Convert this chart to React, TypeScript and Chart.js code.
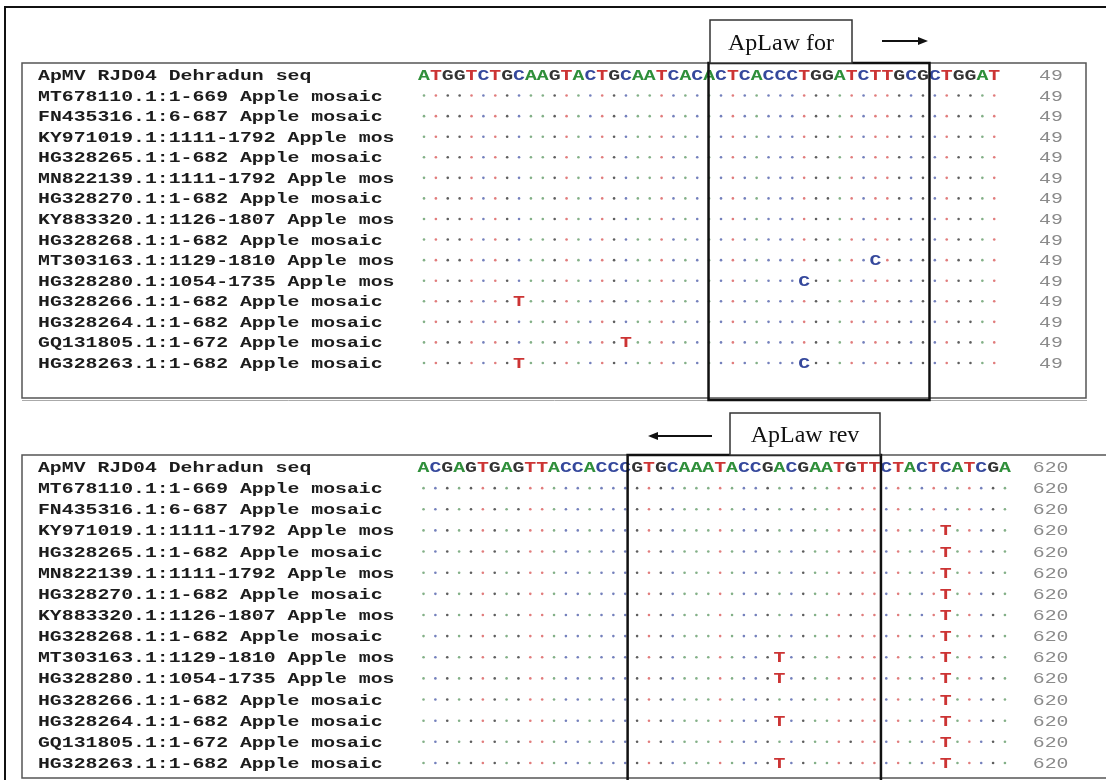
import React, { useEffect, useRef } from 'react';
import { Chart, registerables } from 'chart.js';
Chart.register(...registerables);

// ---------- DATA ----------
const sequenceNames = [
  'ApMV RJD04 Dehradun seq',
  'MT678110.1:1-669 Apple mosaic',
  'FN435316.1:6-687 Apple mosaic',
  'KY971019.1:1111-1792 Apple mos',
  'HG328265.1:1-682 Apple mosaic',
  'MN822139.1:1111-1792 Apple mos',
  'HG328270.1:1-682 Apple mosaic',
  'KY883320.1:1126-1807 Apple mos',
  'HG328268.1:1-682 Apple mosaic',
  'MT303163.1:1129-1810 Apple mos',
  'HG328280.1:1054-1735 Apple mos',
  'HG328266.1:1-682 Apple mosaic',
  'HG328264.1:1-682 Apple mosaic',
  'GQ131805.1:1-672 Apple mosaic',
  'HG328263.1:1-682 Apple mosaic',
];

const topReference = 'ATGGTCTGCAAGTACTGCAATCACACTCACCCTGGATCTTGCGCTGGAT';
const bottomReference = 'ACGAGTGAGTTACCACCCGTGCAAATACCGACGAATGTTCTACTCATCGA';

const topEndPosition = '49';
const bottomEndPosition = '620';

const topVariantRows = [9, 10, 11, 13, 14, 14];
const topVariantCols = [38, 32, 8, 17, 8, 32];
const topVariantBases = ['C', 'C', 'T', 'T', 'T', 'C'];

const bottomVariantRows = [3, 4, 5, 6, 7, 8, 9, 10, 11, 12, 13, 14, 9, 10, 12, 14];
const bottomVariantCols = [44, 44, 44, 44, 44, 44, 44, 44, 44, 44, 44, 44, 30, 30, 30, 30];
const bottomVariantBases = ['T', 'T', 'T', 'T', 'T', 'T', 'T', 'T', 'T', 'T', 'T', 'T', 'T', 'T', 'T', 'T'];

const primerLabels = ['ApLaw for', 'ApLaw rev'];
const primerStartCols = [23.95, 17.2];
const primerEndCols = [42.55, 38.55];
const primerDirections = ['right', 'left'];

// ---------- STYLE ----------
const baseColors: Record<string, string> = {
  A: '#2f8f3a',
  C: '#35489c',
  G: '#333333',
  T: '#cc3434',
};
const dotColors: Record<string, string> = {
  A: 'rgba(90,150,95,0.75)',
  C: 'rgba(70,85,165,0.75)',
  G: 'rgba(40,40,40,0.75)',
  T: 'rgba(215,80,80,0.75)',
};
const MONO_SX = 1.32;

function drawText(ctx: CanvasRenderingContext2D, text: string, x: number, y: number, font: string, color: string, align: CanvasTextAlign, sx: number) {
  ctx.save();
  ctx.translate(x, y);
  ctx.scale(sx, 1);
  ctx.font = font;
  ctx.fillStyle = color;
  ctx.textAlign = align;
  ctx.textBaseline = 'alphabetic';
  ctx.fillText(text, 0, 0);
  ctx.restore();
}

function drawArrow(ctx: CanvasRenderingContext2D, x1: number, x2: number, y: number) {
  const dir = Math.sign(x2 - x1);
  ctx.save();
  ctx.strokeStyle = '#111';
  ctx.fillStyle = '#111';
  ctx.lineWidth = 2;
  ctx.beginPath();
  ctx.moveTo(x1, y);
  ctx.lineTo(x2 - dir * 8, y);
  ctx.stroke();
  ctx.beginPath();
  ctx.moveTo(x2, y);
  ctx.lineTo(x2 - dir * 10, y - 4);
  ctx.lineTo(x2 - dir * 10, y + 4);
  ctx.closePath();
  ctx.fill();
  ctx.restore();
}

type PanelCfg = {
  reference: string;
  endLabel: string;
  vRows: number[];
  vCols: number[];
  vBases: string[];
  primer: number;
  xMin: number;
  xMax: number;
  yMin: number;
  yMax: number;
  padding: { left: number; right: number; top: number; bottom: number };
  nameCol: number;
  endCol: number;
  labelBox: { x0: number; x1: number; y0: number; y1: number };
  arrow: { x1: number; x2: number; y: number };
  boxBottomExtra: number;
  rightBorder: boolean;
};

function makeChart(canvas: HTMLCanvasElement, cfg: PanelCfg) {
  const dots: any[] = [];
  const dotCols: string[] = [];
  const letters: any[] = [];
  for (let c = 0; c < cfg.reference.length; c++) {
    letters.push({ x: c, y: 0, b: cfg.reference[c] });
  }
  for (let r = 1; r < sequenceNames.length; r++) {
    for (let c = 0; c < cfg.reference.length; c++) {
      let vi = -1;
      for (let k = 0; k < cfg.vRows.length; k++) if (cfg.vRows[k] === r && cfg.vCols[k] === c) vi = k;
      if (vi >= 0) {
        letters.push({ x: c, y: r, b: cfg.vBases[vi] });
      } else {
        dots.push({ x: c, y: r });
        dotCols.push(dotColors[cfg.reference[c]]);
      }
    }
  }

  const plugin = {
    id: 'alignText',
    afterDatasetsDraw(chart: any) {
      const { ctx, chartArea, scales } = chart;
      const x = scales.x;
      const y = scales.y;
      // names + end numbers
      sequenceNames.forEach((n, i) => {
        const py = y.getPixelForValue(i) + 5;
        drawText(ctx, n, x.getPixelForValue(cfg.nameCol), py, 'bold 15px "Liberation Mono"', '#1c1c1c', 'left', MONO_SX);
        drawText(ctx, cfg.endLabel, x.getPixelForValue(cfg.endCol), py, '15px "Liberation Mono"', '#8a8a8a', 'left', MONO_SX);
      });
      // letters
      const meta = chart.getDatasetMeta(1);
      const ds = chart.data.datasets[1].data as any[];
      meta.data.forEach((el: any, i: number) => {
        const d = ds[i];
        drawText(ctx, d.b, el.x, el.y + 5, 'bold 15px "Liberation Mono"', baseColors[d.b], 'center', MONO_SX);
      });
      // panel border
      ctx.save();
      ctx.strokeStyle = '#555';
      ctx.lineWidth = 1.5;
      ctx.beginPath();
      const L = chartArea.left, T = chartArea.top, R = chartArea.right, B = chartArea.bottom;
      if (cfg.rightBorder) {
        ctx.rect(L, T, R - L, B - T);
      } else {
        ctx.moveTo(R + 5, T);
        ctx.lineTo(L, T);
        ctx.lineTo(L, B);
        ctx.lineTo(R + 5, B);
      }
      ctx.stroke();
      ctx.strokeStyle = '#aaa';
      ctx.lineWidth = 1;
      ctx.beginPath();
      ctx.moveTo(L, B + 2.5);
      ctx.lineTo(cfg.rightBorder ? R + 1 : R + 5, B + 2.5);
      ctx.stroke();
      // highlight (primer) box
      const hx0 = x.getPixelForValue(primerStartCols[cfg.primer]);
      const hx1 = x.getPixelForValue(primerEndCols[cfg.primer]);
      ctx.strokeStyle = '#111';
      ctx.lineWidth = 2.5;
      ctx.strokeRect(hx0, T, hx1 - hx0, B - T + cfg.boxBottomExtra);
      // label box
      const lb = cfg.labelBox;
      ctx.fillStyle = '#fff';
      ctx.fillRect(lb.x0, lb.y0, lb.x1 - lb.x0, lb.y1 - lb.y0);
      ctx.strokeStyle = '#333';
      ctx.lineWidth = 1.5;
      ctx.strokeRect(lb.x0, lb.y0, lb.x1 - lb.x0, lb.y1 - lb.y0);
      ctx.restore();
      drawText(ctx, primerLabels[cfg.primer], (lb.x0 + lb.x1) / 2, (lb.y0 + lb.y1) / 2 + 8, '24px "Liberation Serif"', '#111', 'center', 1);
      drawArrow(ctx, cfg.arrow.x1, cfg.arrow.x2, cfg.arrow.y);
    },
  };

  return new Chart(canvas, {
    type: 'scatter',
    data: {
      datasets: [
        {
          data: dots,
          pointRadius: 1.3,
          pointHoverRadius: 1.3,
          pointBorderWidth: 0,
          pointBackgroundColor: dotCols,
          pointBorderColor: dotCols,
        },
        {
          data: letters,
          pointRadius: 0,
          pointHoverRadius: 0,
        },
      ],
    },
    options: {
      responsive: false,
      animation: false,
      events: [],
      layout: { padding: cfg.padding },
      plugins: { legend: { display: false }, tooltip: { enabled: false } },
      scales: {
        x: { type: 'linear', display: false, min: cfg.xMin, max: cfg.xMax },
        y: { type: 'linear', display: false, min: cfg.yMin, max: cfg.yMax, reverse: true },
      },
    },
    plugins: [plugin],
  } as any);
}

const PITCH = 11.88;
const COL0 = 424;
const colOf = (px: number) => (px - COL0) / PITCH;

export default function App() {
  const topRef = useRef<HTMLCanvasElement>(null);
  const botRef = useRef<HTMLCanvasElement>(null);

  useEffect(() => {
    const top = makeChart(topRef.current!, {
      reference: topReference,
      endLabel: topEndPosition,
      vRows: topVariantRows,
      vCols: topVariantCols,
      vBases: topVariantBases,
      primer: 0,
      xMin: colOf(22),
      xMax: colOf(1086),
      yMin: (63 - 75) / 20.57,
      yMax: (398 - 75) / 20.57,
      padding: { left: 22, right: 20, top: 63, bottom: 10 },
      nameCol: colOf(38),
      endCol: colOf(1039),
      labelBox: { x0: 710, x1: 852, y0: 20, y1: 63 },
      arrow: { x1: 882, x2: 928, y: 41 },
      boxBottomExtra: 2,
      rightBorder: true,
    });
    const bot = makeChart(botRef.current!, {
      reference: bottomReference,
      endLabel: bottomEndPosition,
      vRows: bottomVariantRows,
      vCols: bottomVariantCols,
      vBases: bottomVariantBases,
      primer: 1,
      xMin: colOf(22),
      xMax: colOf(1106),
      yMin: (455 - 467) / 21.14,
      yMax: (778 - 467) / 21.14,
      padding: { left: 22, right: 0, top: 47, bottom: 2 },
      nameCol: colOf(38),
      endCol: colOf(1034),
      labelBox: { x0: 730, x1: 880, y0: 5, y1: 47 },
      arrow: { x1: 712, x2: 648, y: 28 },
      boxBottomExtra: 4,
      rightBorder: false,
    });
    return () => {
      top.destroy();
      bot.destroy();
    };
  }, []);

  return (
    <div style={{ position: 'fixed', left: 0, top: 0, width: 1106, height: 780, background: '#fff', overflow: 'hidden' }}>
      <div
        style={{
          position: 'absolute',
          left: 4,
          top: 6,
          width: 1110,
          height: 790,
          borderTop: '2px solid #111',
          borderLeft: '2px solid #111',
          boxSizing: 'border-box',
        }}
      />
      <canvas ref={topRef} width={1106} height={408} style={{ position: 'absolute', left: 0, top: 0 }} />
      <canvas ref={botRef} width={1106} height={372} style={{ position: 'absolute', left: 0, top: 408 }} />
    </div>
  );
}
